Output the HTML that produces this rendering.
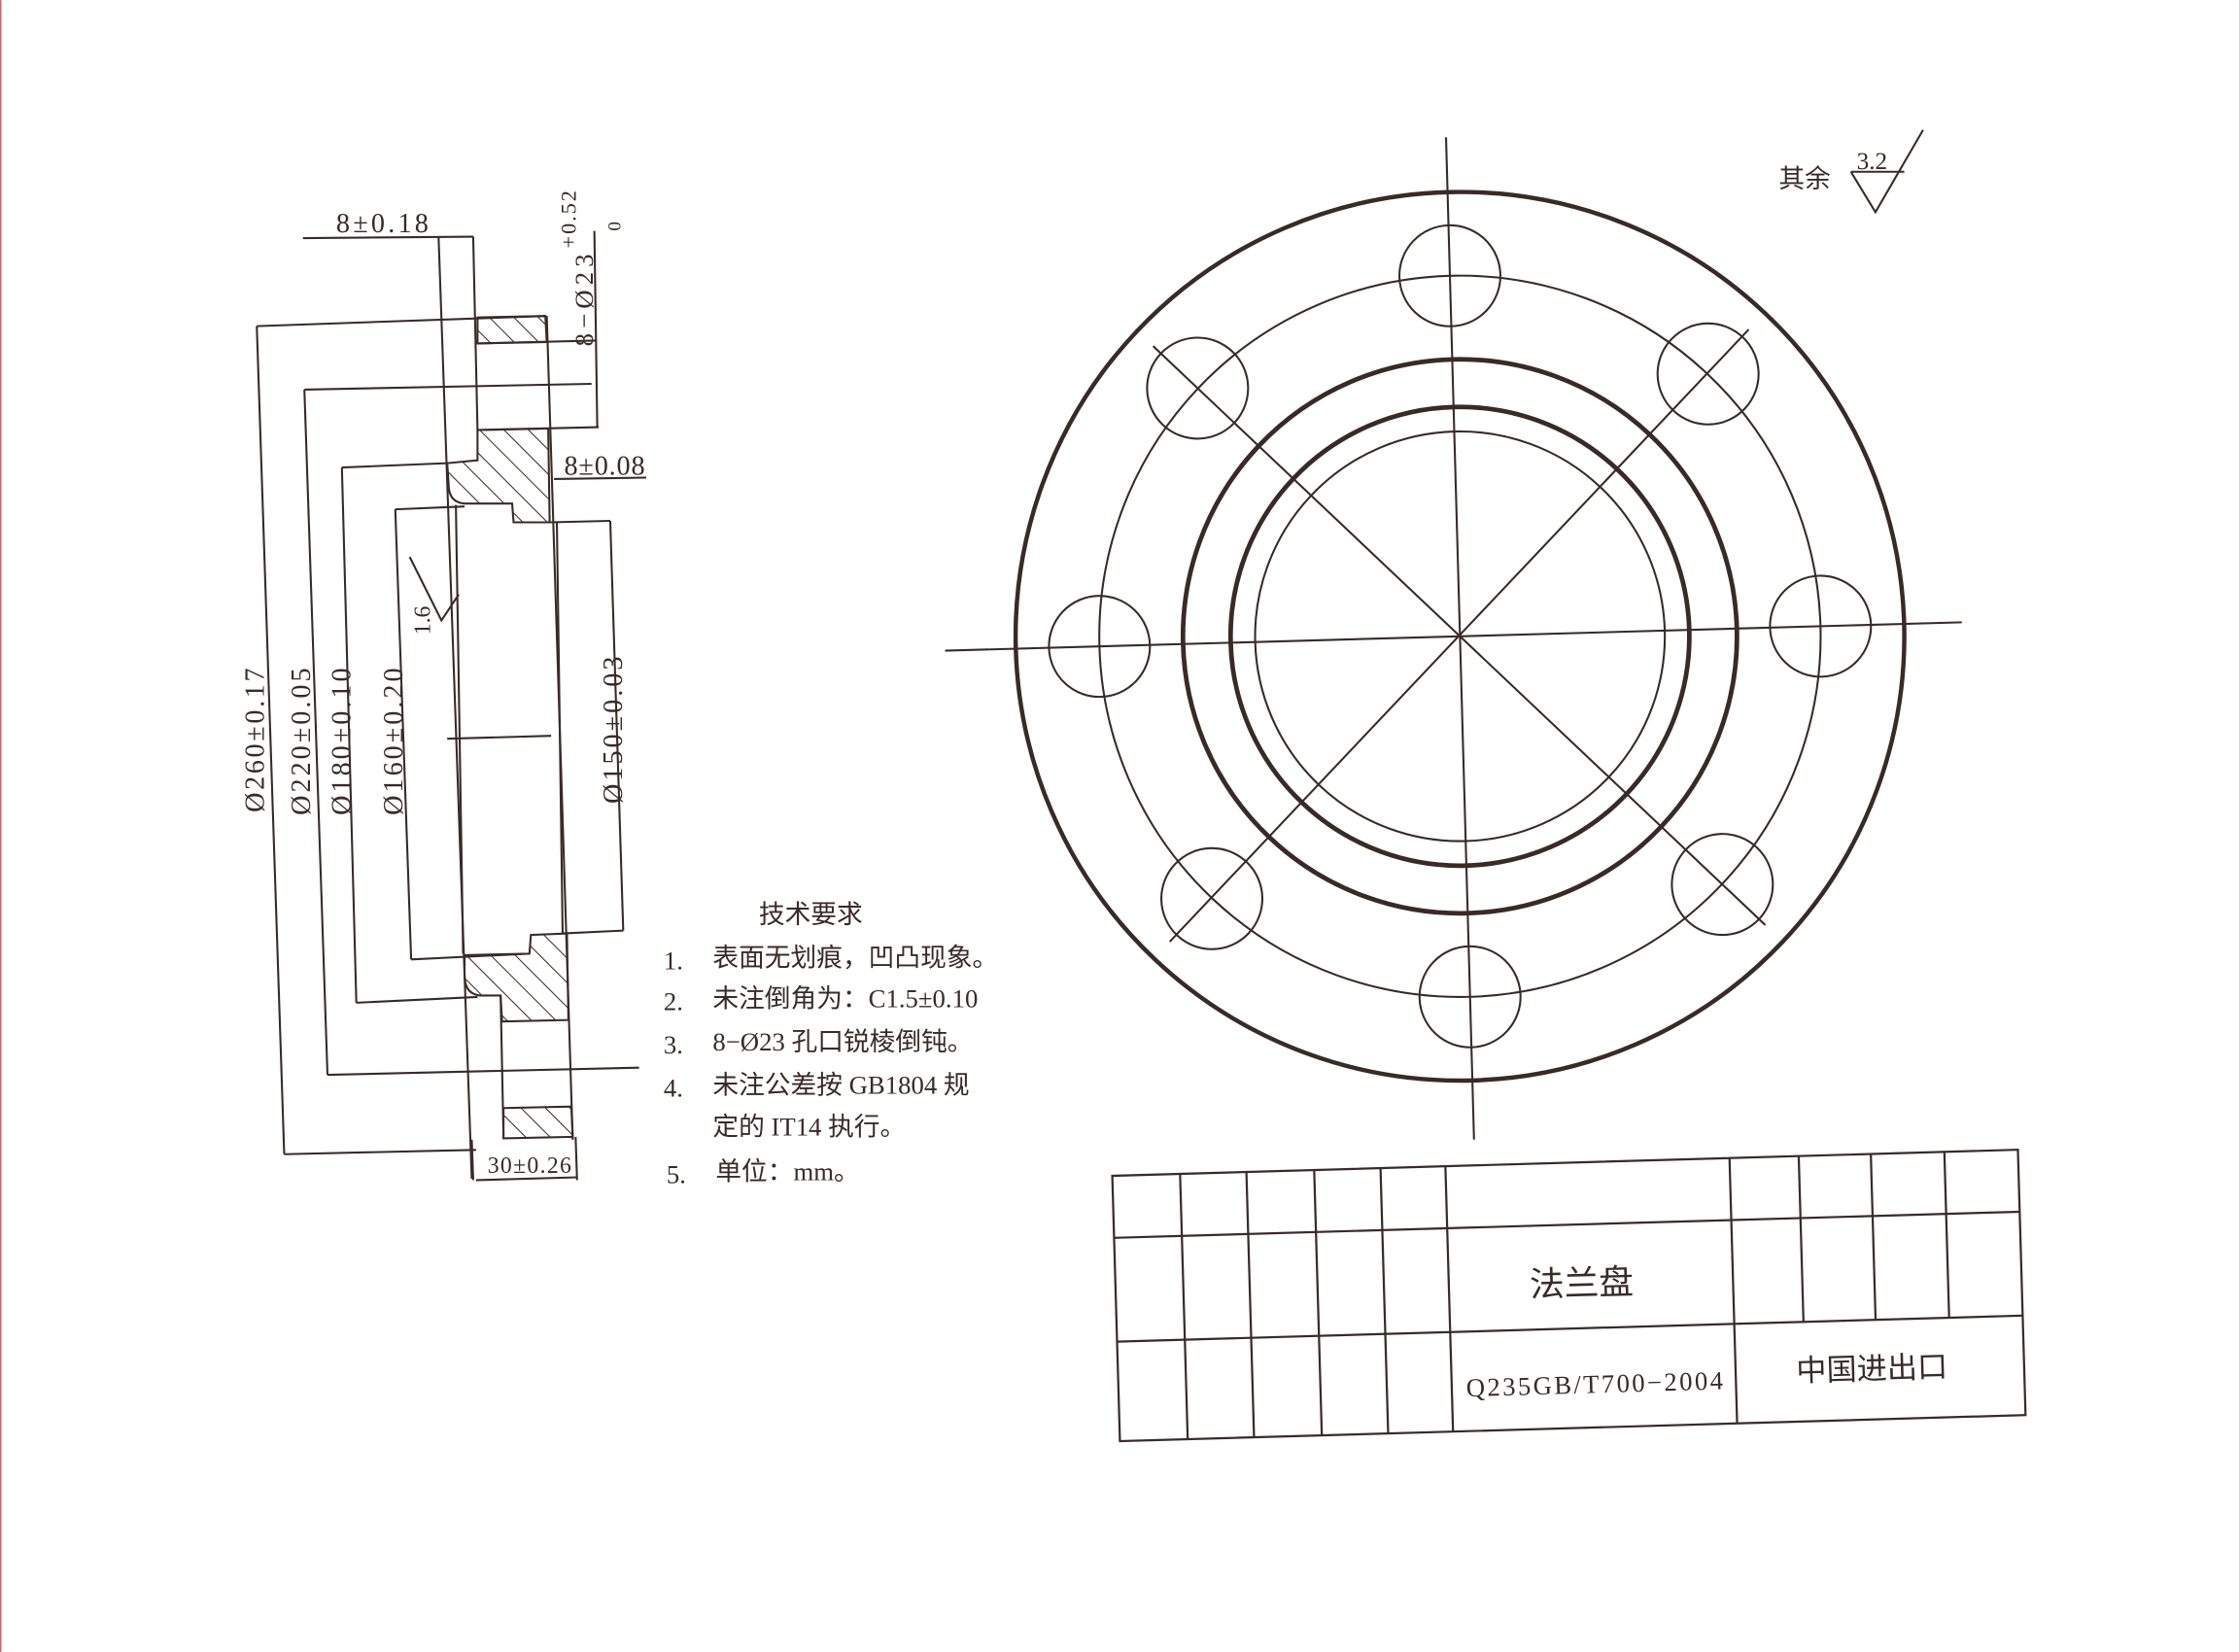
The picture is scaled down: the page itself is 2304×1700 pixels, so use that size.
<!DOCTYPE html>
<html><head><meta charset="utf-8"><style>
html,body{margin:0;padding:0;background:#fff;}
svg{display:block;}
text{font-family:"Liberation Serif","Noto Serif CJK SC","Noto Sans CJK SC",serif;fill:#3a2a26;}
.cn{font-family:"Liberation Serif","Noto Sans CJK SC",sans-serif;}
</style></head><body>
<svg width="2304" height="1700" viewBox="0 0 1552 1145" xmlns="http://www.w3.org/2000/svg">
<defs>
<pattern id="h" patternUnits="userSpaceOnUse" width="12" height="12" patternTransform="rotate(-45)">
<line x1="0" y1="0" x2="0" y2="12" stroke="#3a2a26" stroke-width="1.4"/>
</pattern>
</defs>
<rect width="1552" height="1145" fill="#fff"/>
<line x1="0.5" y1="0" x2="0.5" y2="1145" stroke="#c66" stroke-width="1"/>
<g stroke="#3a2a26" stroke-width="1.4" fill="none">
<line x1="210" y1="165" x2="328" y2="164"/>
<line x1="304" y1="164" x2="327" y2="817"/>
<line x1="328" y1="164" x2="331" y2="298"/>
<line x1="178" y1="226" x2="378" y2="219"/>
<line x1="178" y1="226" x2="197" y2="800"/>
<line x1="197" y1="800" x2="330" y2="797"/>
<polygon points="331,220 378,219 379,237 331,238" fill="url(#h)"/>
<line x1="331" y1="238" x2="413" y2="236"/>
<line x1="331" y1="298" x2="415" y2="296"/>
<line x1="412" y1="160" x2="414" y2="296"/>
<line x1="211" y1="270" x2="410" y2="266"/>
<line x1="211" y1="270" x2="227" y2="745"/>
<line x1="227" y1="745" x2="443" y2="740"/>
<path d="M331,298 L380,297 L381,362 L356,362 L355,349 L322,349 Q311,348 311,336 L310,321 L331,319 Z" fill="url(#h)"/>
<line x1="237" y1="324" x2="310" y2="321"/>
<line x1="237" y1="324" x2="247" y2="695"/>
<line x1="247" y1="695" x2="331" y2="691"/>
<line x1="274" y1="353" x2="322" y2="351"/>
<line x1="274" y1="353" x2="285" y2="665"/>
<line x1="285" y1="665" x2="367" y2="661"/>
<line x1="316" y1="350" x2="321" y2="661"/>
<line x1="379" y1="219" x2="397" y2="790"/>
<line x1="386" y1="362" x2="390" y2="647"/>
<line x1="381" y1="362" x2="423" y2="361"/>
<line x1="423" y1="361" x2="432" y2="645"/>
<line x1="390" y1="647" x2="432" y2="645"/>
<line x1="310" y1="512" x2="382" y2="510"/>
<path d="M322,662 L367,661 L368,648 L393,647 L394,707 L348,708 L347,690 L333,690 Q322,689 322,676 Z" fill="url(#h)"/>
<line x1="347" y1="690" x2="349" y2="787"/>
<polygon points="349,768 396,767 397,788 349,789" fill="url(#h)"/>
<line x1="384" y1="332" x2="448" y2="331"/>
<line x1="327" y1="790" x2="328" y2="818"/>
<line x1="399" y1="788" x2="400" y2="818"/>
<line x1="330" y1="818" x2="400" y2="816"/>
<polyline points="284,386 306,430 318,412"/>
<polyline points="1283,119 1320,119"/>
<polyline points="1283,119 1300,147 1333,90"/>
</g>
<g font-size="19">
<text x="233" y="161" textLength="64">8±0.18</text>
<text x="391" y="329" textLength="56">8±0.08</text>
<text x="338" y="813" font-size="16" textLength="58">30±0.26</text>
<text transform="translate(411,240) rotate(-90)" font-size="18" textLength="64">8−Ø23</text>
<text transform="translate(399,172) rotate(-90)" font-size="15" textLength="40">+0.52</text>
<text transform="translate(430,160) rotate(-90)" font-size="13">0</text>
<text transform="translate(183,563) rotate(-90)" textLength="100">Ø260±0.17</text>
<text transform="translate(215,565) rotate(-90)" textLength="102">Ø220±0.05</text>
<text transform="translate(243,565) rotate(-90)" textLength="102">Ø180±0.10</text>
<text transform="translate(279,565) rotate(-90)" textLength="102">Ø160±0.20</text>
<text transform="translate(431,557) rotate(-90)" textLength="102">Ø150±0.03</text>
<text transform="translate(298,440) rotate(-90)" font-size="16">1.6</text>
<text x="1287" y="117" font-size="17">3.2</text>
<text x="1233" y="130" class="cn" font-size="18">其余</text>
</g>
<g font-size="18">
<text x="526" y="640" class="cn">技术要求</text>
<text x="460" y="672">1.</text><text x="494" y="670" class="cn">表面无划痕，凹凸现象。</text>
<text x="460" y="700">2.</text><text x="494" y="698" class="cn">未注倒角为：C1.5±0.10</text>
<text x="460" y="730">3.</text><text x="494" y="728" class="cn">8−Ø23 孔口锐棱倒钝。</text>
<text x="460" y="760">4.</text><text x="494" y="758" class="cn">未注公差按  GB1804  规</text>
<text x="494" y="787" class="cn">定的 IT14 执行。</text>
<text x="462" y="820">5.</text><text x="496" y="818" class="cn">单位：mm。</text>
</g>
<g transform="rotate(-1.6 1012 441)" stroke="#3a2a26" fill="none">
<circle cx="1012" cy="441" r="308" stroke-width="3"/>
<circle cx="1012" cy="441" r="250" stroke-width="1.4"/>
<circle cx="1012" cy="441" r="192" stroke-width="3.2"/>
<circle cx="1012" cy="441" r="159" stroke-width="3.2"/>
<circle cx="1012" cy="441" r="142" stroke-width="1.4"/>
<g stroke-width="1.4">
<circle cx="1012" cy="191" r="35"/>
<circle cx="1012" cy="691" r="35"/>
<circle cx="762" cy="441" r="35"/>
<circle cx="1262" cy="441" r="35"/>
<circle cx="835" cy="264" r="35"/>
<circle cx="1189" cy="264" r="35"/>
<circle cx="835" cy="618" r="35"/>
<circle cx="1189" cy="618" r="35"/>
<line x1="1012" y1="95" x2="1012" y2="790"/>
<line x1="655" y1="441" x2="1360" y2="441"/>
<line x1="805" y1="234" x2="1218" y2="647"/>
<line x1="1218" y1="234" x2="805" y2="647"/>
</g>
</g>
<g transform="translate(771,815) rotate(-1.65)" stroke="#3a2a26" stroke-width="1.5" fill="none">
<rect x="0" y="0" width="628" height="184"/>
<line x1="0" y1="43" x2="628" y2="43"/>
<line x1="0" y1="115" x2="628" y2="115"/>
<line x1="47" y1="0" x2="47" y2="184"/>
<line x1="93" y1="0" x2="93" y2="184"/>
<line x1="140" y1="0" x2="140" y2="184"/>
<line x1="186" y1="0" x2="186" y2="184"/>
<line x1="231" y1="0" x2="231" y2="184"/>
<line x1="428" y1="0" x2="428" y2="184"/>
<line x1="476" y1="0" x2="476" y2="115"/>
<line x1="526" y1="0" x2="526" y2="115"/>
<line x1="577" y1="0" x2="577" y2="115"/>
<text x="287" y="92" class="cn" font-size="24" stroke="none" fill="#3a2a26">法兰盘</text>
<text x="241" y="160" font-size="18" stroke="none" fill="#3a2a26" textLength="178">Q235GB/T700−2004</text>
<text x="470" y="156" class="cn" font-size="21" stroke="none" fill="#3a2a26">中国进出口</text>
</g>
</svg>
</body></html>
